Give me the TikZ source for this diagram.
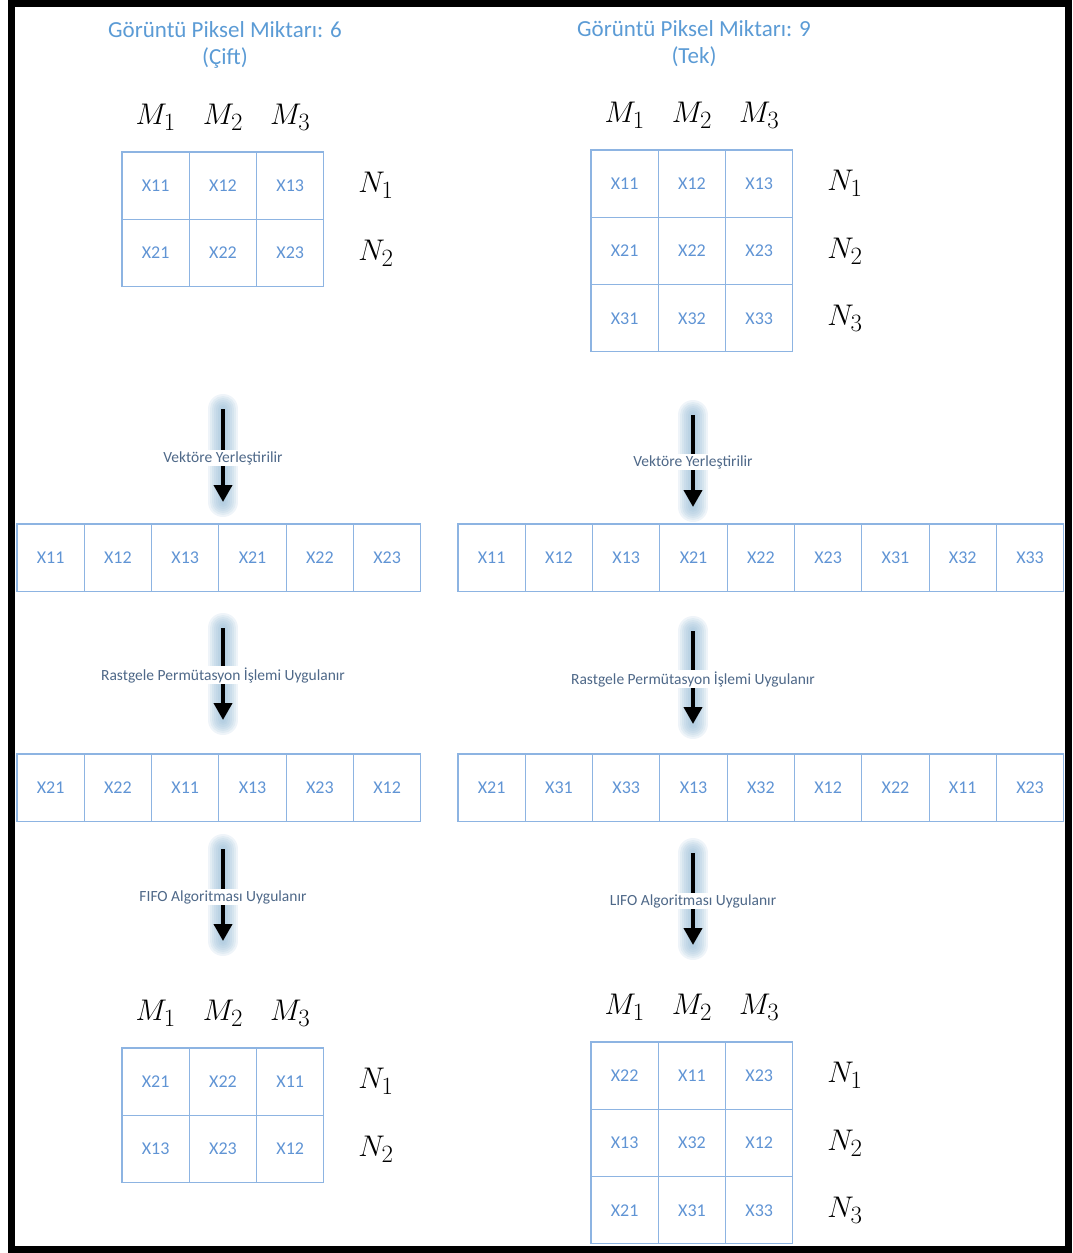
\documentclass[tikz,border=0pt]{standalone}
\usepackage{fontspec}
\setmainfont{Carlito}
\usetikzlibrary{arrows.meta}

\definecolor{gridblue}{RGB}{141,180,226}
\definecolor{cellblue}{RGB}{96,148,212}
\definecolor{titleblue}{RGB}{91,155,213}
\definecolor{stepgray}{RGB}{78,104,136}
\definecolor{haze}{RGB}{146,184,212}

% enlarged row / column index
\newcommand{\bigidx}[1]{\scalebox{1.2}{$#1$}}

\tikzset{
  cell/.style={draw=gridblue, line width=1.1pt, minimum size=67.3pt, inner sep=0pt,
    text=cellblue, font=\fontsize{18}{18}\selectfont},
  idx/.style={font=\fontsize{24.88}{25}\selectfont},
  heading/.style={align=center, text=titleblue, font=\fontsize{23}{27}\selectfont},
  steplabel/.style={fill=white, inner sep=1pt, text=stepgray, font=\fontsize{15.5}{15.5}\selectfont},
  flow/.style={line width=4pt, -{Triangle[width=18pt,length=17pt]}},
}

\begin{document}
\begin{tikzpicture}[x=1pt,y=-1pt]
  \useasboundingbox (0,0) rectangle (1072,1253);

  % ---- left side: 6 pixels (even) ----
  \node[heading] (evenTitle) at (225,45) {Görüntü Piksel Miktarı: 6\\(Çift)};
  \foreach \j in {1,2,3}
    \node[idx] (evenM\j) at ({88.35+67.3*\j},117) {\bigidx{M_\j}};
  \foreach \lbl [count=\j] in {X11,X12,X13}
    \node[cell] (even-1-\j) at ({88.35+67.3*\j},185.65) {\lbl};
  \foreach \lbl [count=\j] in {X21,X22,X23}
    \node[cell] (even-2-\j) at ({88.35+67.3*\j},252.95) {\lbl};
  \foreach \i in {1,2}
    \node[idx] (evenN\i) at (376,{118.35+67.3*\i}) {\bigidx{N_\i}};

  % vector, then shuffled vector
  \foreach \lbl [count=\k from 0] in {X11,X12,X13,X21,X22,X23}
    \node[cell] (evenVec-\k) at ({50.65+67.3*\k},557.65) {\lbl};
  \foreach \lbl [count=\k from 0] in {X21,X22,X11,X13,X23,X12}
    \node[cell] (evenPerm-\k) at ({50.65+67.3*\k},787.65) {\lbl};

  % result after FIFO
  \foreach \j in {1,2,3}
    \node[idx] (evenOutM\j) at ({88.35+67.3*\j},1013) {\bigidx{M_\j}};
  \foreach \lbl [count=\j] in {X21,X22,X11}
    \node[cell] (evenOut-1-\j) at ({88.35+67.3*\j},1081.65) {\lbl};
  \foreach \lbl [count=\j] in {X13,X23,X12}
    \node[cell] (evenOut-2-\j) at ({88.35+67.3*\j},1148.95) {\lbl};
  \foreach \i in {1,2}
    \node[idx] (evenOutN\i) at (376,{1014.35+67.3*\i}) {\bigidx{N_\i}};

  % ---- right side: 9 pixels (odd) ----
  \node[heading] (oddTitle) at (694,43.5) {Görüntü Piksel Miktarı: 9\\(Tek)};
  \foreach \j in {1,2,3}
    \node[idx] (oddM\j) at ({557.35+67.3*\j},115) {\bigidx{M_\j}};
  \foreach \lbl [count=\j] in {X11,X12,X13}
    \node[cell] (odd-1-\j) at ({557.35+67.3*\j},183.65) {\lbl};
  \foreach \lbl [count=\j] in {X21,X22,X23}
    \node[cell] (odd-2-\j) at ({557.35+67.3*\j},250.95) {\lbl};
  \foreach \lbl [count=\j] in {X31,X32,X33}
    \node[cell] (odd-3-\j) at ({557.35+67.3*\j},318.25) {\lbl};
  \foreach \i in {1,2,3}
    \node[idx] (oddN\i) at (845,{116.35+67.3*\i}) {\bigidx{N_\i}};

  % vector, then shuffled vector
  \foreach \lbl [count=\k from 0] in {X11,X12,X13,X21,X22,X23,X31,X32,X33}
    \node[cell] (oddVec-\k) at ({491.65+67.3*\k},557.65) {\lbl};
  \foreach \lbl [count=\k from 0] in {X21,X31,X33,X13,X32,X12,X22,X11,X23}
    \node[cell] (oddPerm-\k) at ({491.65+67.3*\k},787.65) {\lbl};

  % result after LIFO
  \foreach \j in {1,2,3}
    \node[idx] (oddOutM\j) at ({557.35+67.3*\j},1007) {\bigidx{M_\j}};
  \foreach \lbl [count=\j] in {X22,X11,X23}
    \node[cell] (oddOut-1-\j) at ({557.35+67.3*\j},1075.65) {\lbl};
  \foreach \lbl [count=\j] in {X13,X32,X12}
    \node[cell] (oddOut-2-\j) at ({557.35+67.3*\j},1142.95) {\lbl};
  \foreach \lbl [count=\j] in {X21,X31,X33}
    \node[cell] (oddOut-3-\j) at ({557.35+67.3*\j},1210.25) {\lbl};
  \foreach \i in {1,2,3}
    \node[idx] (oddOutN\i) at (845,{1008.35+67.3*\i}) {\bigidx{N_\i}};

  % ---- step arrows with soft halo ----
  \foreach \nm/\x/\ya/\yb/\yl/\txt in {
      evenA/223/409/502/458/Vektöre Yerleştirilir,
      oddA/693/415/507/462/Vektöre Yerleştirilir,
      evenB/223/628/720/675/Rastgele Permütasyon İşlemi Uygulanır,
      oddB/693/631/724/679/Rastgele Permütasyon İşlemi Uygulanır,
      evenC/223/849/941/897/FIFO Algoritması Uygulanır,
      oddC/693/853/945/901/LIFO Algoritması Uygulanır}{
    \coordinate (\nm-s) at (\x,\ya);
    \coordinate (\nm-e) at (\x,\yb);
    \foreach \w in {30,26,...,6}
      \draw[haze, line width=\w pt, line cap=round, opacity=0.15] (\nm-s) -- (\nm-e);
    \draw[flow] (\nm-s) -- (\nm-e);
    \node[steplabel] (\nm-lbl) at (\x,\yl) {\txt};
  }

  % outer frame
  \draw[line width=7pt] (11.5,3) rectangle (1068.5,1249.5);
\end{tikzpicture}
\end{document}
